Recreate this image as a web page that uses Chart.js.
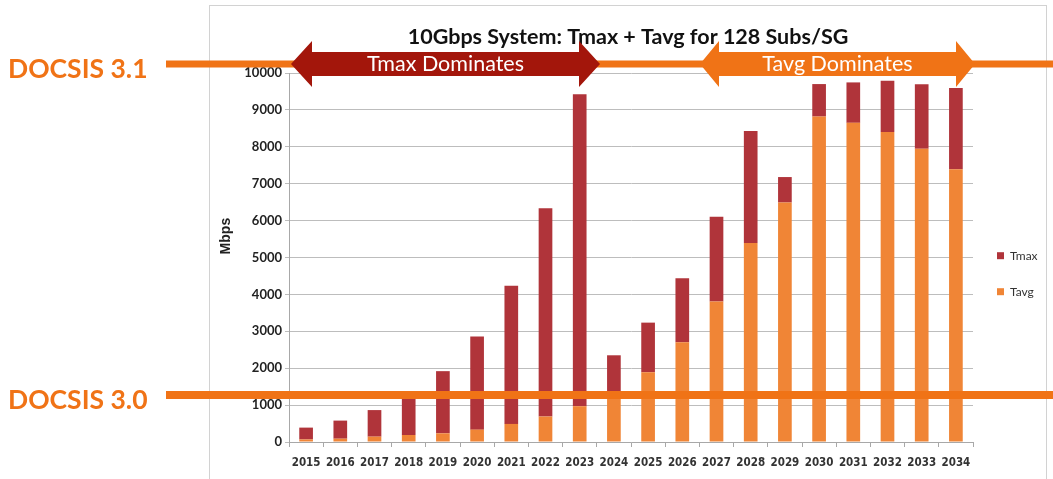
<!DOCTYPE html>
<html>
<head>
<meta charset="utf-8">
<script src="https://cdn.jsdelivr.net/npm/chart.js@4"></script>
<style>
  html, body { margin: 0; padding: 0; background: #ffffff; }
  #wrap { position: relative; width: 1053px; height: 479px; }
</style>
</head>
<body>
<div id="wrap"><canvas id="c" width="1053" height="479"></canvas></div>
<script>
// ---- data ----
const categories = ['2015','2016','2017','2018','2019','2020','2021','2022','2023','2024',
                    '2025','2026','2027','2028','2029','2030','2031','2032','2033','2034'];
const tavgValues = [70, 90, 145, 190, 235, 335, 490, 690, 970, 1350,
                    1890, 2700, 3810, 5390, 6490, 8820, 8650, 8400, 7950, 7390];
const tmaxValues = [320, 490, 720, 1100, 1685, 2525, 3745, 5645, 8455, 1000,
                    1345, 1735, 2295, 3040, 690, 880, 1095, 1390, 1745, 2205];
const yTicks = [0, 1000, 2000, 3000, 4000, 5000, 6000, 7000, 8000, 9000, 10000];
const seriesNames = ['Tavg', 'Tmax'];
const chartTitle = '10Gbps System: Tmax + Tavg for 128 Subs/SG';
const axisTitle = 'Mbps';
const docsisLabels = ['DOCSIS 3.1', 'DOCSIS 3.0'];
const arrowLabels = ['Tmax Dominates', 'Tavg Dominates'];

// ---- styles ----
const ORANGE_LINE = '#F07316';
const RED_ARROW = '#A3160B';
const BAR_ORANGE = '#F08536';
const BAR_RED = '#B0343A';

const overlayPlugin = {
  id: 'overlay',
  beforeDraw(chart) {
    const ctx = chart.ctx;
    ctx.save();
    ctx.fillStyle = '#ffffff';
    ctx.fillRect(0, 0, chart.width, chart.height);
    ctx.strokeStyle = '#D2D2D2';
    ctx.lineWidth = 1;
    ctx.strokeRect(209.5, 5.5, 837, 500);
    ctx.restore();
  },
  afterDraw(chart) {
    const ctx = chart.ctx;
    ctx.save();
    // horizontal DOCSIS lines
    ctx.fillStyle = ORANGE_LINE;
    ctx.fillRect(166, 60.5, 887, 7);
    ctx.fillRect(166, 391, 887, 8);
    // labels
    ctx.font = 'bold 26.5px Lato';
    ctx.textBaseline = 'middle';
    ctx.textAlign = 'left';
    ctx.fillText(docsisLabels[0], 8, 69);
    ctx.fillText(docsisLabels[1], 8, 400);

    function arrow(x1, x2, head, yc, hh, sh, color, text) {
      ctx.fillStyle = color;
      ctx.beginPath();
      ctx.moveTo(x1, yc);
      ctx.lineTo(x1 + head, yc - hh);
      ctx.lineTo(x1 + head, yc - sh);
      ctx.lineTo(x2 - head, yc - sh);
      ctx.lineTo(x2 - head, yc - hh);
      ctx.lineTo(x2, yc);
      ctx.lineTo(x2 - head, yc + hh);
      ctx.lineTo(x2 - head, yc + sh);
      ctx.lineTo(x1 + head, yc + sh);
      ctx.lineTo(x1 + head, yc + hh);
      ctx.closePath();
      ctx.fill();
      ctx.fillStyle = '#ffffff';
      ctx.font = '21.5px Lato';
      ctx.textAlign = 'center';
      ctx.textBaseline = 'middle';
      ctx.fillText(text, (x1 + x2) / 2, yc);
    }
    arrow(291, 600, 21, 64, 23, 12, RED_ARROW, arrowLabels[0]);
    arrow(700, 975, 19, 64, 23, 12, ORANGE_LINE, arrowLabels[1]);
    ctx.restore();
  }
};

new Chart(document.getElementById('c'), {
  type: 'bar',
  data: {
    labels: categories,
    datasets: [
      { label: seriesNames[0], data: tavgValues, backgroundColor: BAR_ORANGE, borderWidth: 0,
        barPercentage: 0.5, categoryPercentage: 0.8 },
      { label: seriesNames[1], data: tmaxValues, backgroundColor: BAR_RED, borderWidth: 0,
        barPercentage: 0.5, categoryPercentage: 0.8 }
    ]
  },
  options: {
    responsive: false,
    animation: false,
    layout: { padding: { left: 209, right: 6, top: 0, bottom: 0 } },
    plugins: {
      title: {
        display: true, text: chartTitle, color: '#111',
        font: { family: 'Lato', size: 21.5, weight: 'bold', lineHeight: 1.2 },
        padding: { top: 24.5, bottom: 22.7 }
      },
      legend: {
        position: 'right', fullSize: false, maxWidth: 74, reverse: true,
        labels: { boxWidth: 7, boxHeight: 7, padding: 24, color: '#333',
                  font: { family: 'Lato', size: 12 } },
        title: { display: true, text: '', padding: { top: 0, bottom: 30 }, font: { size: 2 } }
      },
      tooltip: { enabled: false }
    },
    scales: {
      x: {
        stacked: true,
        grid: { display: true, drawOnChartArea: false, drawTicks: true, tickLength: 5, color: '#A8A8A8', offset: true },
        border: { color: '#A8A8A8' },
        ticks: { color: '#333', padding: 9, maxRotation: 0, autoSkip: false,
                 font: { family: 'DejaVu Sans Condensed', size: 11.5, weight: 'bold' } },
        afterFit(s) { s.height = 37; }
      },
      y: {
        stacked: true, min: 0, max: 10000,
        afterBuildTicks(s) { s.ticks = yTicks.map(v => ({ value: v })); },
        grid: { color: '#BDBDBD', tickLength: 4, drawTicks: true },
        border: { color: '#A8A8A8' },
        ticks: { color: '#222', padding: 3, font: { family: 'Lato', size: 13, weight: 'bold' },
                 callback: (v) => String(v) },
        title: { display: true, text: '           ' + axisTitle, color: '#222',
                 font: { family: 'Liberation Sans', size: 14, weight: 'bold' },
                 padding: { top: 9, bottom: 0 } },
        afterFit(s) { s.width = 80; }
      }
    }
  },
  plugins: [overlayPlugin]
});
</script>
</body>
</html>
